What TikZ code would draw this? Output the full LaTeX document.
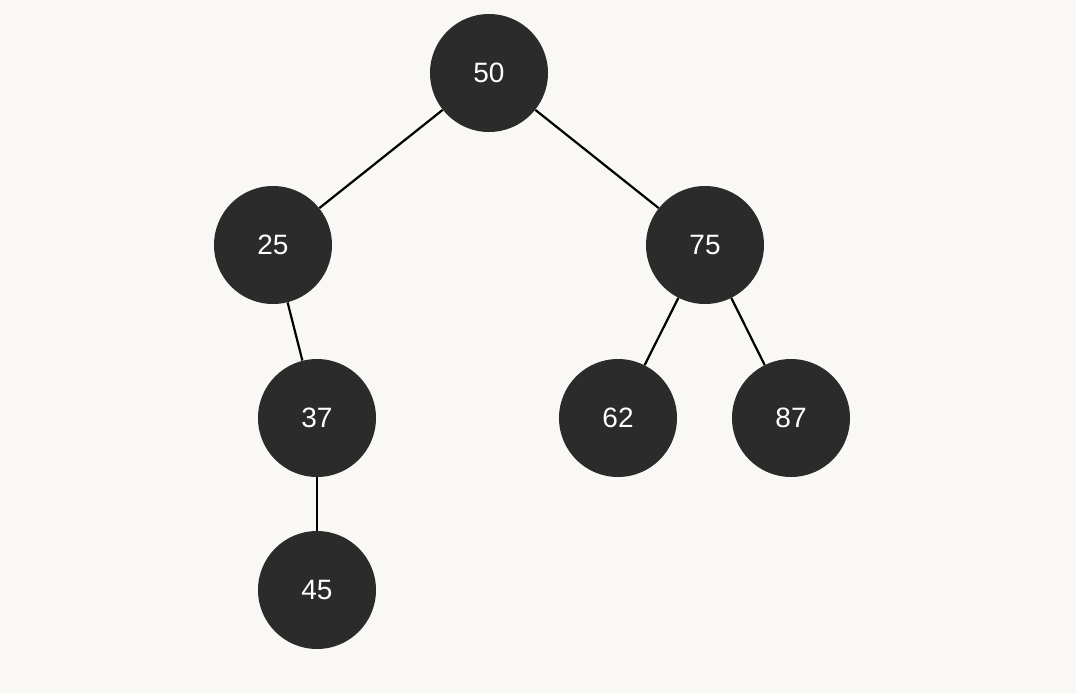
\documentclass[tikz,border=0pt]{standalone}
\usepackage{fontspec}
\setmainfont{Liberation Sans}
\definecolor{bg}{HTML}{F9F8F4}
\definecolor{nodefill}{HTML}{2B2B2B}
\begin{document}
\begin{tikzpicture}[x=0.75pt,y=-0.75pt,
  tnode/.style={circle,fill=nodefill,minimum size=88.5pt,inner sep=0pt,text=white,font=\fontsize{21}{25}\selectfont},
  edge/.style={line width=2.2pt*0.75,black}]
\fill[bg] (0,0) rectangle (1076,694);
\useasboundingbox (0,0) rectangle (1076,694);
\node[tnode] (n50) at (489,73) {50};
\node[tnode] (n25) at (273,245) {25};
\node[tnode] (n75) at (705,245) {75};
\node[tnode] (n37) at (317,418) {37};
\node[tnode] (n62) at (618,418) {62};
\node[tnode] (n87) at (791,418) {87};
\node[tnode] (n45) at (317,590) {45};
\draw[edge] (n50) -- (n25);
\draw[edge] (n50) -- (n75);
\draw[edge] (n25) -- (n37);
\draw[edge] (n37) -- (n45);
\draw[edge] (n75) -- (n62);
\draw[edge] (n75) -- (n87);
\end{tikzpicture}
\end{document}
